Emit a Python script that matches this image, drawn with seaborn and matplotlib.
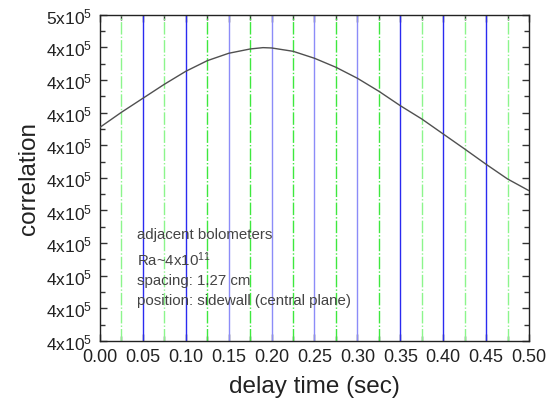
import matplotlib
matplotlib.use("Agg")
import matplotlib.pyplot as plt
import seaborn as sns
import pandas as pd
from matplotlib.ticker import FixedLocator, MultipleLocator

# Cross-correlation of adjacent bolometer signals vs delay time
delay = [0.0, 0.025, 0.05, 0.075, 0.10, 0.125, 0.15, 0.175, 0.19, 0.20, 0.225,
         0.25, 0.275, 0.30, 0.325, 0.35, 0.375, 0.40, 0.425, 0.45, 0.475, 0.50]
corr = [446549, 447009, 447438, 447867, 448265, 448590, 448817, 448949, 448990,
        448980, 448878, 448664, 448388, 448051, 447653, 447211, 446804, 446344,
        445884, 445415, 444965, 444606]

# Reference marker lines
blue_pos = [0.05, 0.10, 0.15, 0.20, 0.25, 0.30, 0.35, 0.40, 0.45]
blue_col = ['#2a2af0', '#2a2af0', '#8c8cf8', '#8c8cf8', '#8c8cf8', '#8c8cf8',
            '#2a2af0', '#2a2af0', '#2a2af0']
green_pos = [0.025, 0.075, 0.125, 0.175, 0.225, 0.275, 0.325, 0.375, 0.425, 0.475]
green_col = ['#8cf58c', '#8cf58c', '#3ee83e', '#3ee83e', '#3ee83e', '#3ee83e',
             '#3ee83e', '#8cf58c', '#8cf58c', '#8cf58c']

y_ticks = [440000, 441000, 442000, 443000, 444000, 445000, 446000, 447000,
           448000, 449000, 450000]
y_labels = ['4x10$^{5}$'] * 10 + ['5x10$^{5}$']
x_ticks = [0.0, 0.05, 0.10, 0.15, 0.20, 0.25, 0.30, 0.35, 0.40, 0.45, 0.50]
x_labels = ['0.00', '0.05', '0.10', '0.15', '0.20', '0.25', '0.30', '0.35',
            '0.40', '0.45', '0.50']

notes = ['adjacent bolometers', 'Ra~4x10$^{11}$', 'spacing: 1.27 cm',
         'position: sidewall (central plane)']
note_y = [0.328, 0.251, 0.187, 0.126]

sns.set_theme(style="white")
plt.rcParams['font.family'] = ['Liberation Sans', 'DejaVu Sans']
plt.rcParams['mathtext.default'] = 'regular'

fig = plt.figure(figsize=(5.47, 4.02), dpi=100)
ax = fig.add_axes([0.1828, 0.1493, 0.7843, 0.8117])

for xp, c in zip(blue_pos, blue_col):
    ax.axvline(xp, color=c, lw=1.0, zorder=1)
for xp, c in zip(green_pos, green_col):
    ax.axvline(xp, color=c, lw=1.0, ls=(0, (9, 1.5, 1, 1.5)), zorder=1)

df = pd.DataFrame({'delay': delay, 'corr': corr})
sns.lineplot(data=df, x='delay', y='corr', ax=ax, color='#505050', lw=1.0,
             zorder=3)

ax.set_xlim(0, 0.5)
ax.set_ylim(440000, 450000)
ax.yaxis.set_major_locator(FixedLocator(y_ticks))
ax.set_yticklabels(y_labels)
ax.yaxis.set_minor_locator(MultipleLocator(500))
ax.xaxis.set_major_locator(FixedLocator(x_ticks))
ax.set_xticklabels(x_labels)
ax.xaxis.set_minor_locator(MultipleLocator(0.025))

ax.tick_params(axis='both', which='major', direction='in', length=5,
               width=1, color='#333333', labelsize=13, labelcolor='#222222',
               top=True, right=True, bottom=True, left=True)
ax.tick_params(axis='x', which='major', pad=5)
ax.tick_params(axis='y', which='major', labelsize=12.5, pad=6)
ax.tick_params(axis='both', which='minor', direction='in', length=3.5,
               width=1, color='#333333', top=True, right=True,
               bottom=True, left=True)

for sp in ax.spines.values():
    sp.set_color('#222222')
    sp.set_linewidth(1.0)

ax.set_xlabel('delay time (sec)', fontsize=17.5, color='#222222', labelpad=7)
ax.set_ylabel('correlation', fontsize=17.5, color='#222222', labelpad=4)

for t, yy in zip(notes, note_y):
    ax.text(0.086, yy, t, transform=ax.transAxes,
            fontsize=10.8, color='#444444', va='center', zorder=4)

fig.savefig('out.png', dpi=100)
